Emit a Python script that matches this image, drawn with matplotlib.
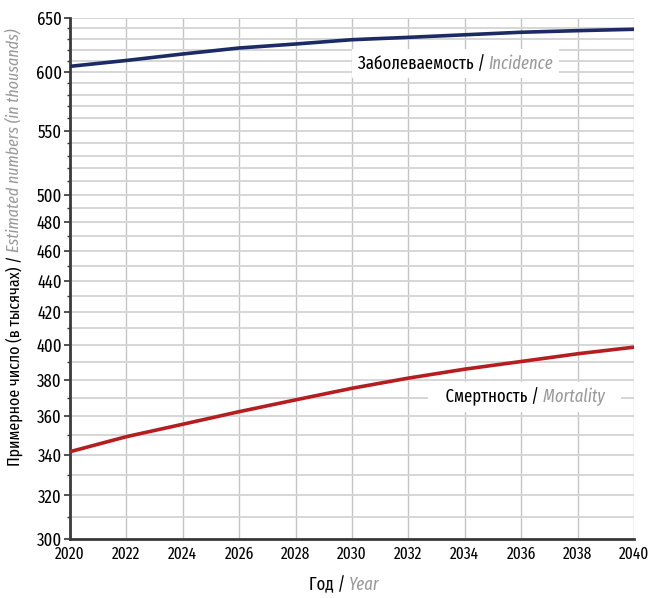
import numpy as np
import matplotlib
matplotlib.use("Agg")
import matplotlib.pyplot as plt
from matplotlib.ticker import FixedLocator, FixedFormatter, NullFormatter

plt.rcParams['font.family'] = ['Fira Sans Extra Condensed', 'DejaVu Sans']

# Datos (miles de casos)
anios = [2020, 2022, 2024, 2026, 2028, 2030, 2032, 2034, 2036, 2038, 2040]
incidencia = [605, 610.3, 616.2, 621.7, 625.4, 629.4, 631.6, 634, 636.4, 637.9, 639.2]
mortalidad = [341.5, 349.2, 355.7, 362.4, 368.8, 375.2, 380.9, 386, 390.4, 394.9, 398.8]

ticks_y = [300, 320, 340, 360, 380, 400, 420, 440, 460, 480, 500, 550, 600, 650]
ticks_x = list(range(2020, 2041, 2))

gris = '#9a9a9a'
azul = '#1c2a66'
rojo = '#b51d1f'
tam = 13

fig = plt.figure(figsize=(6.49, 5.98), dpi=100)
ax = fig.add_axes([0.1079, 0.0987, 0.8690, 0.8712])

ax.plot(anios, incidencia, color=azul, lw=2.6, solid_capstyle='butt', zorder=3)
ax.plot(anios, mortalidad, color=rojo, lw=2.6, solid_capstyle='butt', zorder=3)

ax.set_yscale('log')
ax.set_ylim(300, 650)
ax.set_xlim(2020, 2040)

ax.yaxis.set_major_locator(FixedLocator(ticks_y))
ax.yaxis.set_major_formatter(FixedFormatter([str(t) for t in ticks_y]))
ax.yaxis.set_minor_locator(FixedLocator(list(range(300, 651, 10))))
ax.yaxis.set_minor_formatter(NullFormatter())
ax.xaxis.set_major_locator(FixedLocator(ticks_x))
ax.set_xticklabels([str(t) for t in ticks_x])

ax.tick_params(axis='y', which='major', length=4, width=1.2, color='#333333', labelsize=tam, pad=2)
ax.tick_params(axis='y', which='minor', length=2, width=1, color='#333333')
ax.tick_params(axis='x', which='major', length=0, labelsize=12, pad=5)

# rejilla
ax.grid(True, axis='y', which='both', color='#d6d6d6', lw=1.4, zorder=0)
ax.grid(True, axis='x', which='major', color='#c4c4c4', lw=1.0, zorder=0)
ax.set_axisbelow(True)

for lado in ['top', 'right']:
    ax.spines[lado].set_visible(False)
for lado in ['left', 'bottom']:
    ax.spines[lado].set_color('#3a3a3a')
    ax.spines[lado].set_linewidth(2)


# etiqueta de serie: parte negra + parte gris en cursiva, sobre caja blanca
def etiqueta(x, y, negro, cursiva):
    for capa in (True, False):
        z = 4 if capa else 5
        caja = dict(facecolor='white', edgecolor='none', pad=4) if capa else None
        t = ax.text(x, y, negro, fontsize=tam, color='white' if capa else 'black',
                    ha='left', va='center', bbox=caja, zorder=z)
        ax.annotate(cursiva, xy=(1, 0.5), xycoords=t, fontsize=tam,
                    color='white' if capa else gris, style='italic',
                    ha='left', va='center', bbox=caja, zorder=z)


etiqueta(2030.2, 607.5, 'Заболеваемость / ', 'Incidence')
etiqueta(2032.9, 370.4, '   Смертность / ', 'Mortality   ')

# titulos de ejes
ty = fig.text(0.0216, 1 - 466 / 598, 'Примерное число (в тысячах) / ', fontsize=12.5,
              rotation=90, ha='center', va='bottom')
plt.annotate('Estimated numbers (in thousands)', xy=(0.5, 1), xycoords=ty, fontsize=12.5,
             color=gris, style='italic', rotation=90, ha='center', va='bottom',
             annotation_clip=False)

tx = fig.text(349 / 649, 1 - 585 / 598, 'Год / ', fontsize=tam, ha='right', va='center')
plt.annotate('Year', xy=(1, 0.5), xycoords=tx, fontsize=tam, color=gris,
             style='italic', ha='left', va='center', annotation_clip=False)

fig.savefig('out.png', dpi=100)
